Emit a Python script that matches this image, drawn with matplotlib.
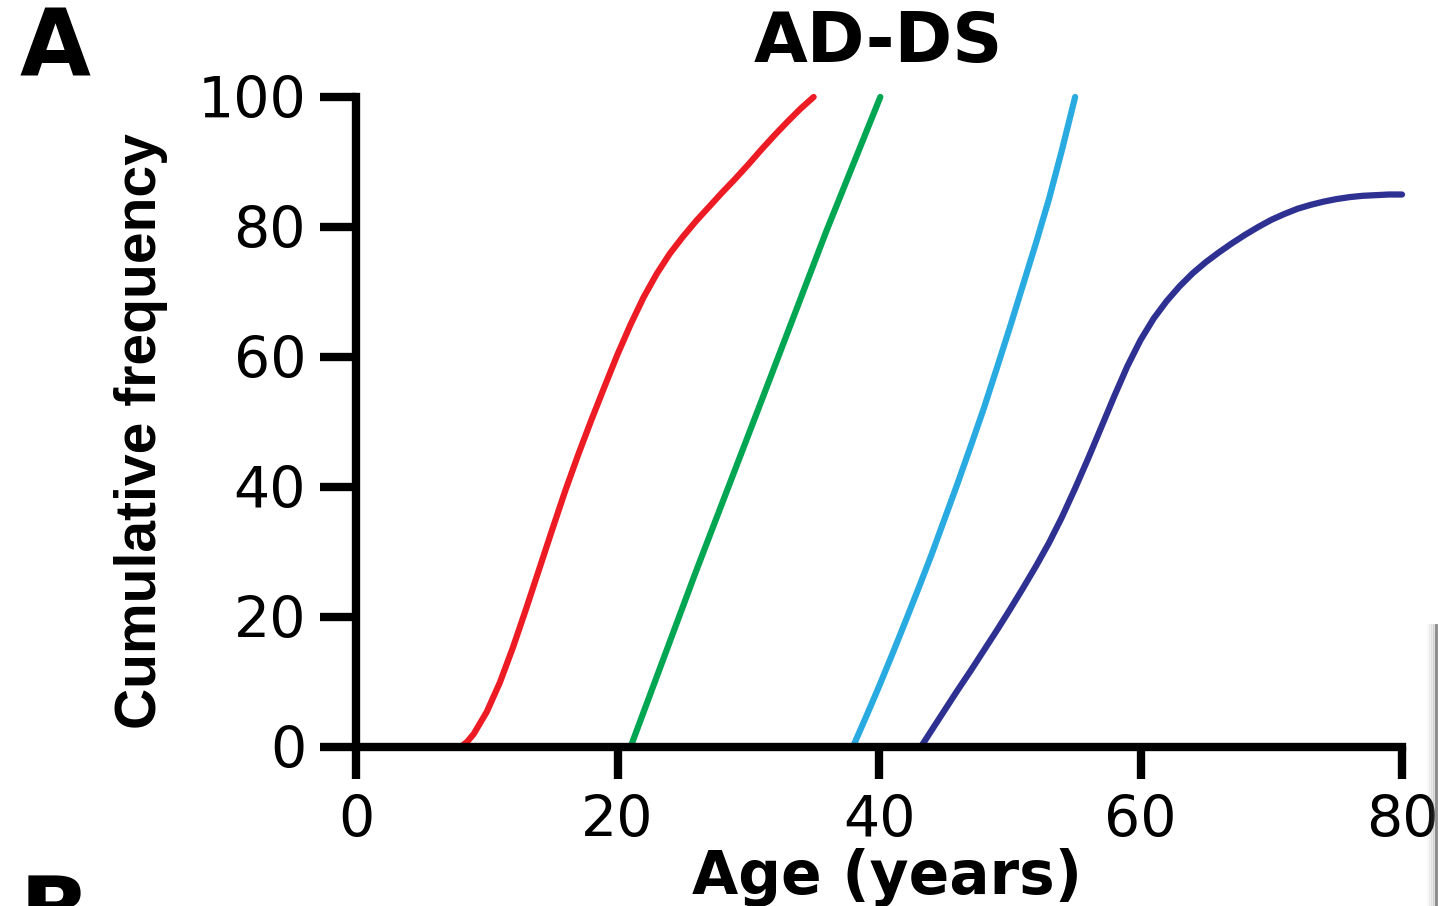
import matplotlib
matplotlib.use("Agg")
import matplotlib.pyplot as plt
from matplotlib import font_manager
from matplotlib.lines import Line2D

# ---------------- data ----------------
x_ticks = [0, 20, 40, 60, 80]
y_ticks = [0, 20, 40, 60, 80, 100]

red_x = [0, 8, 8.5, 9, 10, 11, 12, 13, 14, 15, 16, 17, 18, 19, 20, 21, 22, 23, 24, 25,
         26, 27, 28, 29, 30, 31, 32, 33, 34, 35]
red_y = [0, 0, 0.8, 2.0, 5.4, 9.9, 15.3, 21.2, 27.3, 33.4, 39.4, 45.0, 50.3, 55.4,
         60.4, 65.0, 69.2, 72.8, 75.9, 78.5, 80.9, 83.1, 85.3, 87.4, 89.6, 91.9,
         94.1, 96.2, 98.2, 100]

green_x = [21, 26, 31, 36, 40.1]
green_y = [0, 27, 53.2, 79.5, 100]

cyan_x = [38, 39, 40, 41, 42, 43, 44, 45, 46, 47, 48, 49, 50, 51, 52, 53, 54, 55]
cyan_y = [0, 4.6, 9.3, 14.2, 19.2, 24.3, 29.5, 35, 40.5, 46.2, 52, 58.2, 64.5, 71,
          77.5, 84.3, 91.9, 100]

navy_x = [43.2, 44, 45, 46, 47, 48, 49, 50, 51, 52, 53, 54, 55, 56, 57, 58, 59, 60,
          61, 62, 63, 64, 65, 66, 67, 68, 69, 70, 71, 72, 73, 74, 75, 76, 77, 78, 79, 80]
navy_y = [0, 2.5, 5.6, 8.7, 11.7, 14.8, 17.9, 21.1, 24.4, 27.8, 31.4, 35.4, 39.8,
          44.4, 49.2, 54.0, 58.6, 62.6, 65.9, 68.6, 70.9, 72.9, 74.6, 76.1, 77.5,
          78.8, 80.0, 81.1, 82.0, 82.8, 83.4, 83.9, 84.3, 84.6, 84.8, 84.9, 85.0, 85.0]

series = [
    (red_x, red_y, "#ED1C24"),
    (green_x, green_y, "#00A651"),
    (cyan_x, cyan_y, "#29ABE2"),
    (navy_x, navy_y, "#2E3192"),
]

title = "AD-DS"
xlabel = "Age (years)"
ylabel = "Cumulative frequency"

# ---------------- figure ----------------
W, H = 1438, 906
fig = plt.figure(figsize=(W / 100, H / 100), dpi=100)
fig.patch.set_facecolor("white")

ax = fig.add_axes([356 / W, 1 - 747 / H, (1402 - 356) / W, (747 - 97) / H])

for xs, ys, c in series:
    ax.plot(xs, ys, color=c, lw=4.5, solid_capstyle="round",
            solid_joinstyle="round", clip_on=False, zorder=2)

ax.set_xlim(0, 80)
ax.set_ylim(0, 100)
ax.set_xticks(x_ticks)
ax.set_yticks(y_ticks)

for s in ["top", "right"]:
    ax.spines[s].set_visible(False)
for s in ["left", "bottom"]:
    ax.spines[s].set_linewidth(6)
    ax.spines[s].set_color("black")
    ax.spines[s].set_capstyle("projecting")

ax.tick_params(axis="y", direction="out", length=26, width=6, pad=10,
               labelsize=41, colors="black")
ax.tick_params(axis="x", direction="out", length=23, width=6, pad=11,
               labelsize=41, colors="black")

# texts
fig.text(878 / W, 1 - 62 / H, title, ha="center", va="baseline",
         fontsize=50, fontweight="bold")
fig.text(887 / W, 1 - 894 / H, xlabel, ha="center", va="baseline",
         fontsize=43, fontweight="bold")

names = {f.name for f in font_manager.fontManager.ttflist}
if "Liberation Sans Narrow" in names:
    yfam, ysize = "Liberation Sans Narrow", 51
else:
    yfam, ysize = "Liberation Sans", 41
fig.text(141 / W, 1 - 431 / H, ylabel, rotation=90, ha="center", va="center",
         fontsize=ysize, fontweight="bold", family=yfam)

fig.text(20 / W, 1 - 76 / H, "A", ha="left", va="baseline",
         fontsize=66, fontweight="bold")
fig.text(20 / W, 1 - 943 / H, "B", ha="left", va="baseline",
         fontsize=66, fontweight="bold")

# edge of neighbouring panel at the right border
for dx, a in [(8, 0.06), (6, 0.10), (4, 0.16), (2, 0.25)]:
    fig.add_artist(Line2D([(1436 - dx) / W] * 2, [1 - 625 / H, 0],
                          color="#777777", alpha=a, lw=2,
                          transform=fig.transFigure))
fig.add_artist(Line2D([1436 / W] * 2, [1 - 625 / H, 0], color="#8a8a8a",
                      lw=2, transform=fig.transFigure))

fig.savefig("out.png", dpi=100, facecolor="white")
